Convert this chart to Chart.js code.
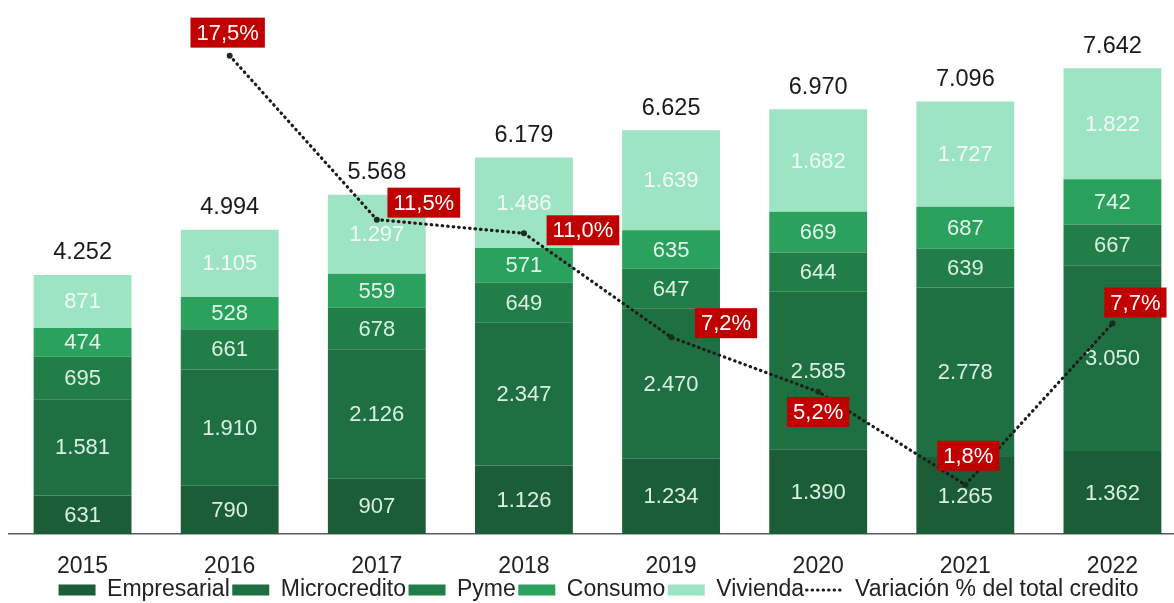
<!DOCTYPE html>
<html>
<head>
<meta charset="utf-8">
<script src="https://cdn.jsdelivr.net/npm/chart.js@4"></script>
<style>
    html, body { margin: 0; padding: 0; background: #fff; overflow: hidden; }
    #wrap { width: 1190px; height: 603px; }
</style>
</head>
<body>
<div id="wrap"><canvas id="creditChart" width="1190" height="603"></canvas></div>
<script>
const years = ['2015', '2016', '2017', '2018', '2019', '2020', '2021', '2022'];
const empresarial = [631, 790, 907, 1126, 1234, 1390, 1265, 1362];
const microcredito = [1581, 1910, 2126, 2347, 2470, 2585, 2778, 3050];
const pyme = [695, 661, 678, 649, 647, 644, 639, 667];
const consumo = [474, 528, 559, 571, 635, 669, 687, 742];
const vivienda = [871, 1105, 1297, 1486, 1639, 1682, 1727, 1822];
const totals = [4252, 4994, 5568, 6179, 6625, 6970, 7096, 7642];
const variacion = [null, 17.5, 11.5, 11.0, 7.2, 5.2, 1.8, 7.7];

// where each red % box sits relative to its point
const pctOffsets = [null, [-2, -23], [47, -17], [59, -3], [55, -14], [0, 20], [3, -29], [23, -21]];

const fontFamily = "'Liberation Sans', Arial, sans-serif";
const fmt = v => String(v).replace(/\B(?=(\d{3})+(?!\d))/g, '.');
const fmtPct = v => v.toFixed(1).replace('.', ',') + '%';

const labelsPlugin = {
    id: 'barLabels',
    afterDatasetDraw(chart, args) {
        const meta = args.meta;
        if (meta.type !== 'bar') return;
        const ds = chart.data.datasets[args.index];
        const ctx = chart.ctx;
        ctx.save();
        ctx.font = '22px ' + fontFamily;
        ctx.fillStyle = ds.labelColor;
        ctx.textAlign = 'center';
        ctx.textBaseline = 'middle';
        meta.data.forEach((bar, i) => {
            ctx.fillText(fmt(ds.data[i]), bar.x, (bar.y + bar.base) / 2 + 1);
        });
        ctx.restore();
    },
    afterDatasetsDraw(chart) {
        const ctx = chart.ctx;
        ctx.save();
        ctx.textAlign = 'center';
        ctx.textBaseline = 'middle';

        // totals above the stacks
        const topMeta = chart.getDatasetMeta(4);
        ctx.font = '23.5px ' + fontFamily;
        ctx.fillStyle = '#1a1a1a';
        topMeta.data.forEach((bar, i) => {
            ctx.fillText(fmt(totals[i]), bar.x, bar.y - 22);
        });

        // red % boxes
        ctx.font = '22px ' + fontFamily;
        const lineMeta = chart.getDatasetMeta(5);
        lineMeta.data.forEach((pt, i) => {
            if (variacion[i] === null) return;
            const txt = fmtPct(variacion[i]);
            const w = ctx.measureText(txt).width + 12;
            const h = 30;
            const cx = pt.x + pctOffsets[i][0];
            const cy = pt.y + pctOffsets[i][1];
            ctx.fillStyle = '#c00000';
            ctx.fillRect(cx - w / 2, cy - h / 2, w, h);
            ctx.fillStyle = '#ffffff';
            ctx.fillText(txt, cx, cy + 1);
        });
        ctx.restore();
    }
};

const ctx = document.getElementById('creditChart').getContext('2d');

const data = {
    labels: years,
    datasets: [
        { label: 'Empresarial', data: empresarial, backgroundColor: '#1b5d37', labelColor: '#d9f1e1', order: 1 },
        { label: 'Microcredito', data: microcredito, backgroundColor: '#1e6f41', labelColor: '#d9f1e1', order: 1 },
        { label: 'Pyme', data: pyme, backgroundColor: '#217e49', labelColor: '#d9f1e1', order: 1 },
        { label: 'Consumo', data: consumo, backgroundColor: '#2aa15c', labelColor: '#e4f6ea', order: 1 },
        { label: 'Vivienda', data: vivienda, backgroundColor: '#9de4c2', labelColor: '#f2fbf6', order: 1 },
        {
            type: 'line',
            label: 'Variación % del total credito',
            data: variacion,
            yAxisID: 'y2',
            borderColor: '#1b1b1b',
            borderWidth: 3.2,
            borderDash: [0.5, 5],
            borderCapStyle: 'round',
            pointRadius: 3,
            pointBackgroundColor: '#1b2e1e',
            pointBorderWidth: 0,
            fill: false,
            tension: 0,
            order: 0
        }
    ]
};

const config = {
    type: 'bar',
    data: data,
    options: {
        responsive: false,
        animation: false,
        devicePixelRatio: 1,
        layout: { padding: { left: 9, right: 2, top: 16, bottom: -8.5 } },
        datasets: { bar: { barPercentage: 0.665, categoryPercentage: 1 } },
        scales: {
            x: {
                stacked: true,
                grid: { display: false, drawTicks: false },
                border: { display: true, color: '#5a5a5a', width: 1.5 },
                ticks: { color: '#222', padding: 19, font: { family: fontFamily, size: 23 } },
                afterFit: scale => { scale.height = 42; }
            },
            y: { stacked: true, display: false, min: 0, max: 8500 },
            y2: { display: false, min: 0, max: 18.95 }
        },
        plugins: {
            tooltip: { enabled: false },
            legend: {
                position: 'bottom',
                labels: {
                    usePointStyle: true,
                    pointStyleWidth: 37,
                    boxHeight: 11,
                    padding: 2.5,
                    color: '#222',
                    font: { family: fontFamily, size: 23 },
                    sort: (a, b) => a.datasetIndex - b.datasetIndex,
                    generateLabels(chart) {
                        const items = Chart.defaults.plugins.legend.labels.generateLabels(chart);
                        items.forEach(it => {
                            if (it.datasetIndex === 5) {
                                it.pointStyle = 'line';
                                it.fillStyle = 'rgba(0,0,0,0)';
                                it.strokeStyle = '#1b1b1b';
                                it.lineWidth = 3;
                                it.lineDash = [0.5, 5];
                                it.lineCap = 'round';
                            } else {
                                it.pointStyle = 'rect';
                                it.lineWidth = 0;
                            }
                        });
                        return items;
                    }
                }
            }
        }
    },
    plugins: [labelsPlugin]
};

new Chart(ctx, config);
</script>
</body>
</html>
